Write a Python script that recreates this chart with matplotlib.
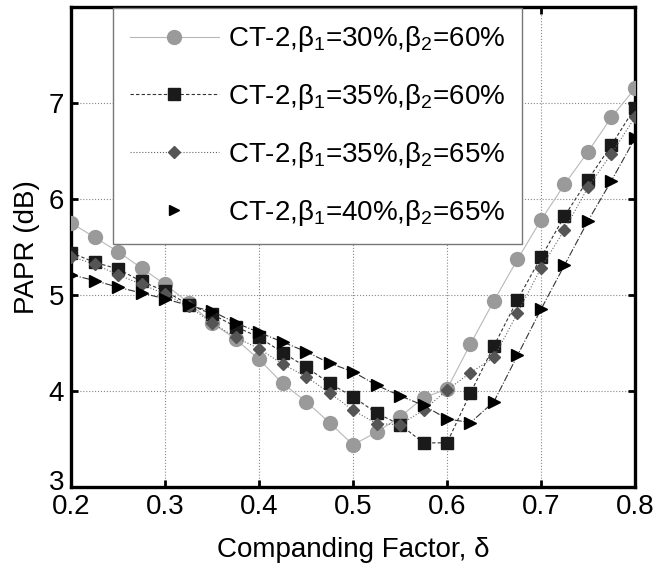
import numpy as np
import matplotlib
matplotlib.use("Agg")
import matplotlib.pyplot as plt
import matplotlib.transforms as mtransforms
from matplotlib.lines import Line2D

plt.rcParams['font.family'] = ['Liberation Sans', 'DejaVu Sans']
plt.rcParams['mathtext.fontset'] = 'custom'
plt.rcParams['mathtext.rm'] = 'Liberation Sans'
plt.rcParams['mathtext.it'] = 'Liberation Sans:italic'

# companding factor delta
delta = [0.2, 0.225, 0.25, 0.275, 0.3, 0.325, 0.35, 0.375, 0.4, 0.425, 0.45, 0.475, 0.5,
         0.525, 0.55, 0.575, 0.6, 0.625, 0.65, 0.675, 0.7, 0.725, 0.75, 0.775, 0.8]

# PAPR (dB) for each setting
papr_30_60 = [5.75, 5.60, 5.45, 5.28, 5.11, 4.92, 4.71, 4.54, 4.33, 4.08, 3.89, 3.67, 3.44,
              3.57, 3.73, 3.93, 4.02, 4.49, 4.94, 5.37, 5.78, 6.15, 6.49, 6.85, 7.15]
papr_35_60 = [5.44, 5.34, 5.27, 5.14, 5.04, 4.90, 4.80, 4.67, 4.56, 4.40, 4.25, 4.08, 3.94,
              3.77, 3.65, 3.46, 3.46, 3.98, 4.47, 4.95, 5.39, 5.82, 6.20, 6.56, 6.95]
papr_35_65 = [5.40, 5.32, 5.21, 5.11, 5.01, 4.88, 4.71, 4.56, 4.44, 4.28, 4.15, 3.98, 3.80,
              3.66, 3.65, 3.80, 4.01, 4.19, 4.35, 4.81, 5.28, 5.68, 6.12, 6.47, 6.85]
papr_40_65 = [5.21, 5.15, 5.08, 5.02, 4.96, 4.89, 4.83, 4.71, 4.61, 4.51, 4.41, 4.29, 4.20,
              4.06, 3.95, 3.85, 3.71, 3.67, 3.89, 4.37, 4.85, 5.31, 5.77, 6.19, 6.63]

labels = [r'CT-2,β$_1$=30%,β$_2$=60%',
          r'CT-2,β$_1$=35%,β$_2$=60%',
          r'CT-2,β$_1$=35%,β$_2$=65%',
          r'CT-2,β$_1$=40%,β$_2$=65%']

fig = plt.figure(figsize=(6.58, 5.65), dpi=100)
ax = fig.add_axes([0.108, 0.138, 0.857, 0.850])

ax.plot(delta, papr_30_60, color='#b8b8b8', linewidth=0.8, linestyle='-',
        marker='o', markersize=10, markerfacecolor='#9a9a9a', markeredgecolor='#9a9a9a', zorder=3)
ax.plot(delta, papr_35_60, color='#333333', linewidth=0.8, linestyle=(0, (3, 2)),
        marker='s', markersize=8, markerfacecolor='#1a1a1a', markeredgecolor='#1a1a1a', zorder=4)
ax.plot(delta, papr_35_65, color='#666666', linewidth=0.8, linestyle=':',
        marker='D', markersize=6, markerfacecolor='#555555', markeredgecolor='#555555', zorder=5)
ax.plot(delta, papr_40_65, color='#333333', linewidth=0.8, linestyle='-.',
        marker='>', markersize=8, markerfacecolor='black', markeredgecolor='black', zorder=6)

ax.set_xlim(0.2, 0.8)
ax.set_ylim(3, 8)
ax.set_xticks([0.2, 0.3, 0.4, 0.5, 0.6, 0.7, 0.8])
ax.set_yticks([3, 4, 5, 6, 7])
ax.grid(True, linestyle=':', color='#888888', linewidth=0.8)
ax.tick_params(direction='in', length=5, width=2, labelsize=20, top=True, right=True, pad=5)
for s in ax.spines.values():
    s.set_linewidth(2.4)

# nudge the bottom y label up a little so it clears "0.2"
fig.canvas.draw()
ylab3 = ax.get_yticklabels()[0]
ylab3.set_transform(ylab3.get_transform() + mtransforms.ScaledTranslation(0, 5 / 72, fig.dpi_scale_trans))

ax.set_xlabel('Companding Factor, δ', fontsize=20, labelpad=12)
ax.set_ylabel('PAPR (dB)', fontsize=20, labelpad=6)

handles = [
    Line2D([], [], color='#b8b8b8', linewidth=0.8, marker='o', markersize=10,
           markerfacecolor='#9a9a9a', markeredgecolor='#9a9a9a'),
    Line2D([], [], color='#333333', linewidth=0.8, linestyle=(0, (3, 2)), marker='s', markersize=8,
           markerfacecolor='#1a1a1a', markeredgecolor='#1a1a1a'),
    Line2D([], [], color='#666666', linewidth=0.8, linestyle=':', marker='D', markersize=6,
           markerfacecolor='#555555', markeredgecolor='#555555'),
    Line2D([], [], linestyle='none', marker='>', markersize=7,
           markerfacecolor='black', markeredgecolor='black'),
]
leg = ax.legend(handles, labels, loc='upper left', bbox_to_anchor=(0.0745, 0.998),
                fontsize=20, handlelength=3.2, handletextpad=0.35, labelspacing=1.0,
                borderpad=0.6, borderaxespad=0, fancybox=False, framealpha=1,
                edgecolor='#777777')
leg.get_frame().set_linewidth(1.0)
leg.set_zorder(10)

fig.savefig('out.png', dpi=100)
